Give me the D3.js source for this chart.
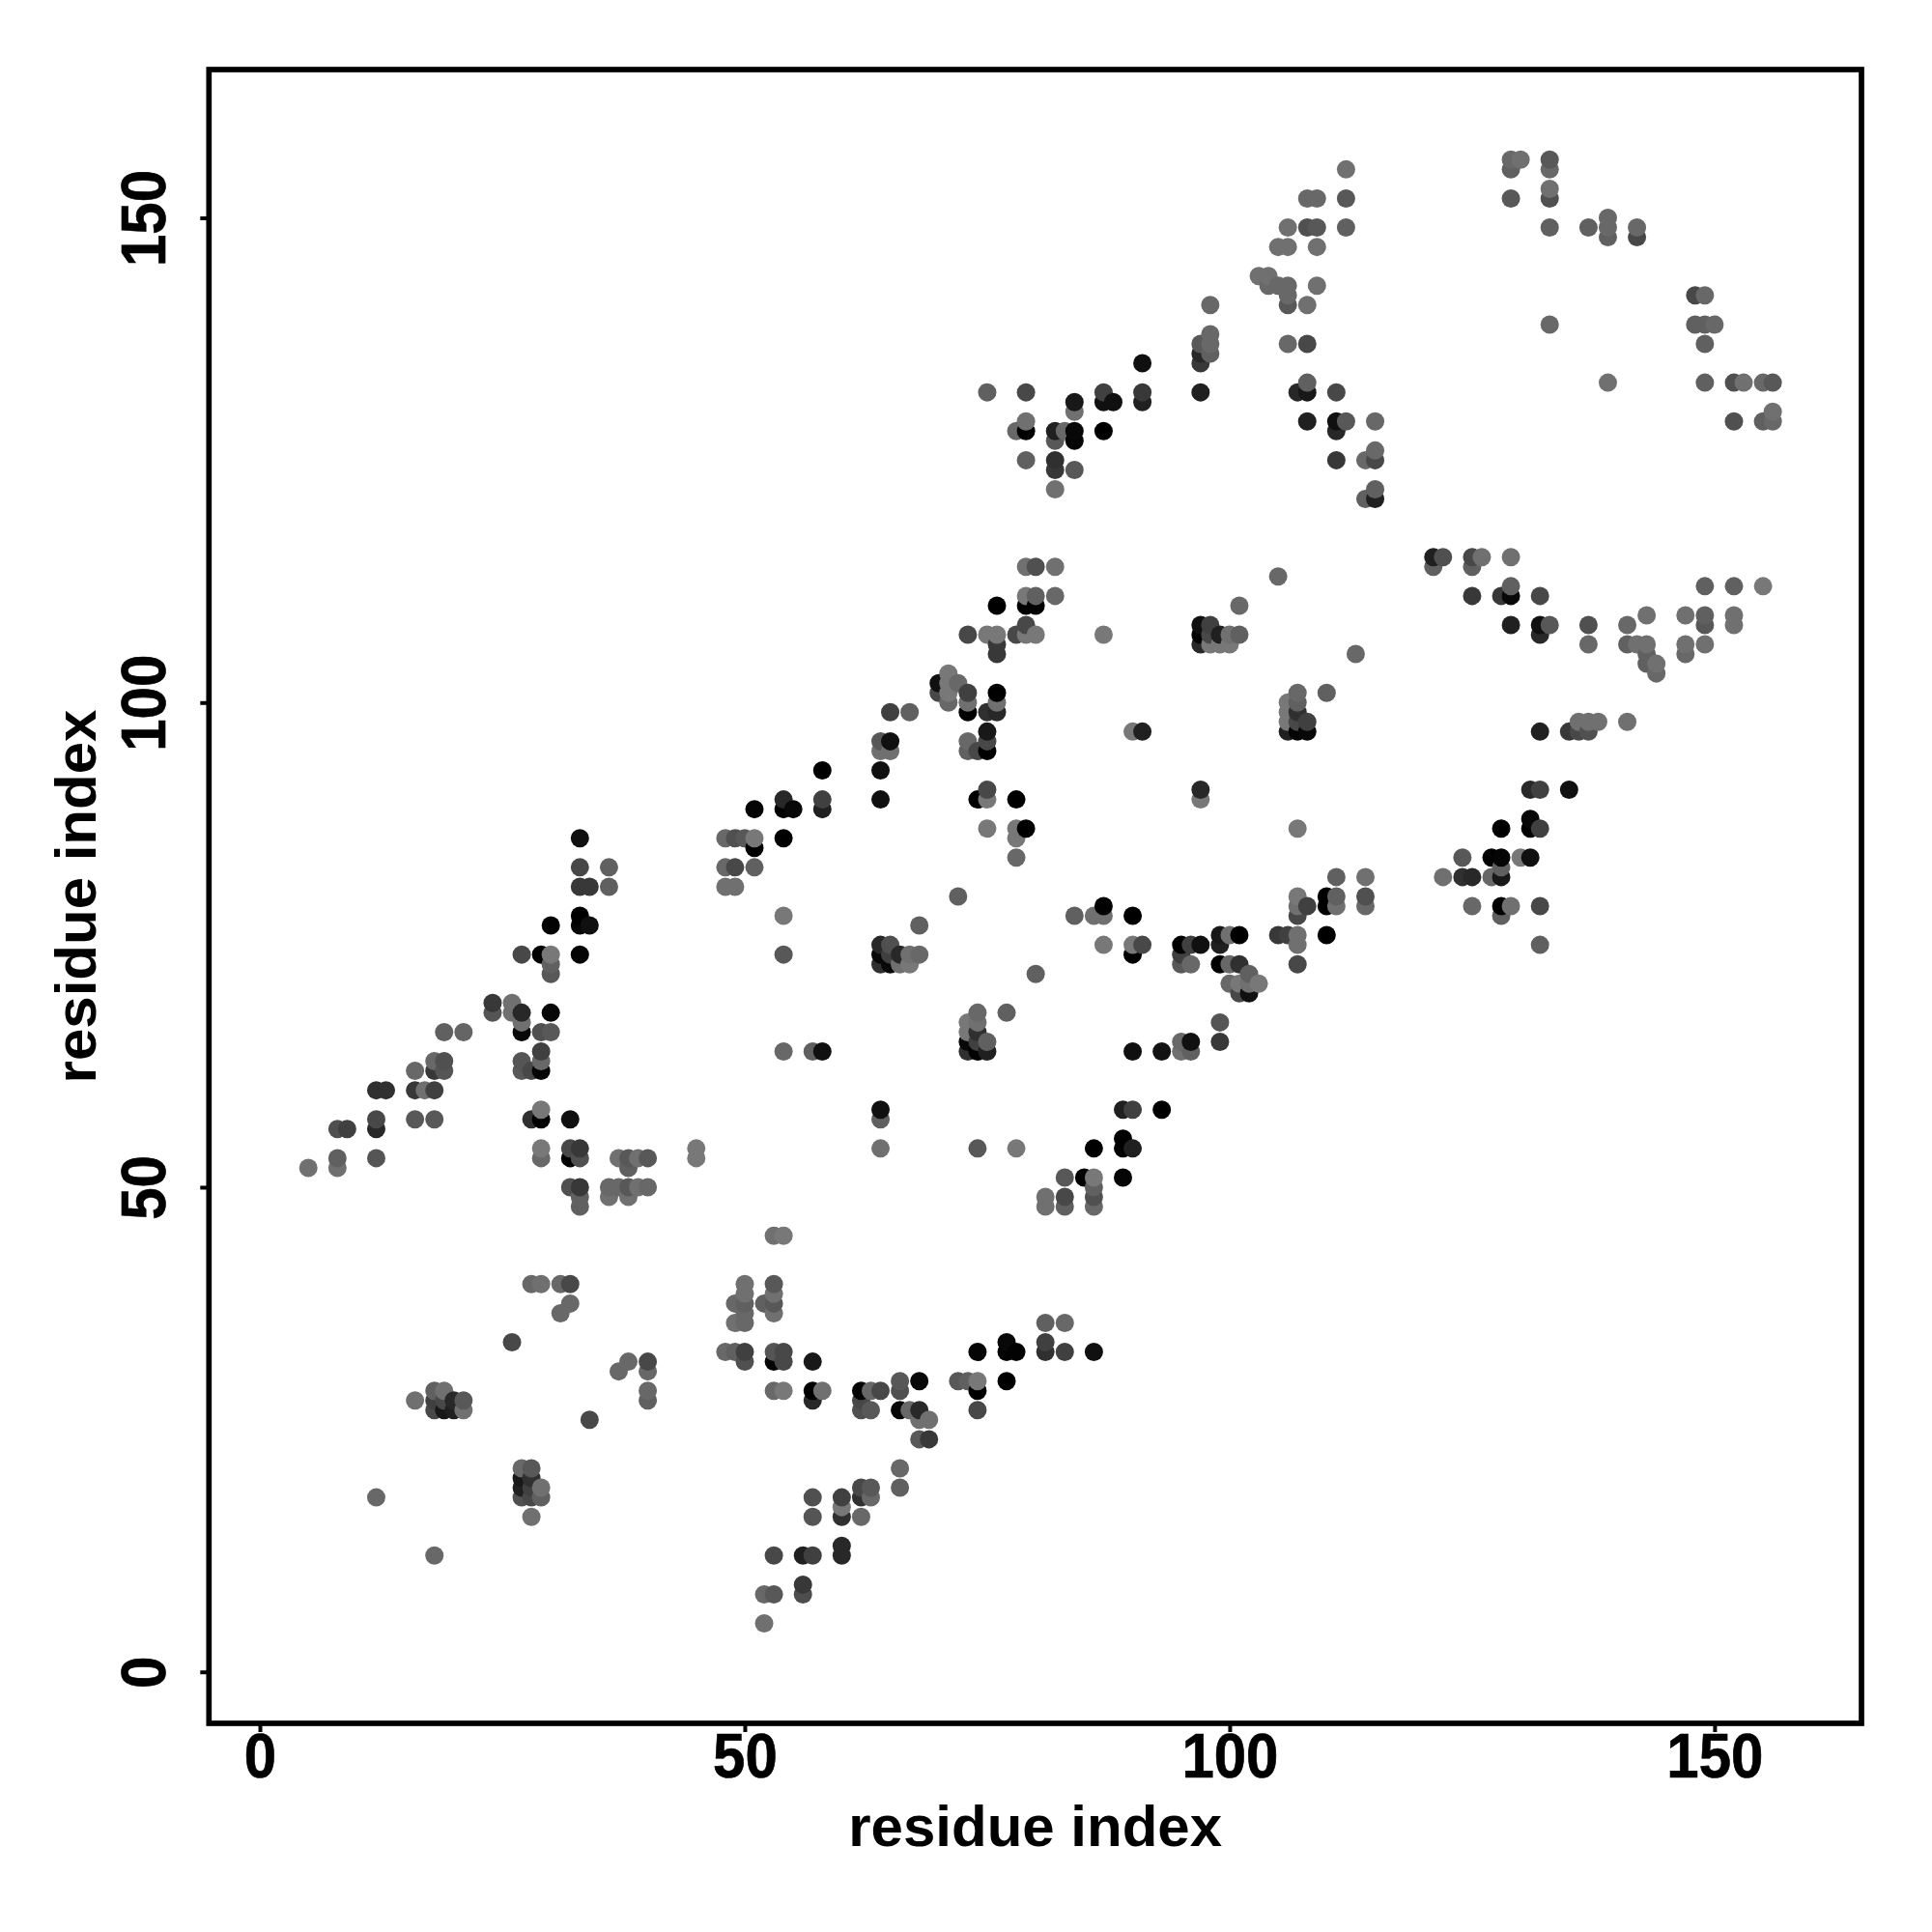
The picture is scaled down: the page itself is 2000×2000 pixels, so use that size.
<!DOCTYPE html>
<html><head><meta charset="utf-8">
<script src="https://cdn.jsdelivr.net/npm/d3@7/dist/d3.min.js"></script>
<style>html,body{margin:0;padding:0;background:#fff}svg{display:block}</style>
</head><body><svg id="c" width="2000" height="2000"></svg>
<script>
const axisTicks = [0, 50, 100, 150];
const xLabel = "residue index";
const yLabel = "residue index";
const residueI = [
5,8,8,8,9,12,12,12,12,13,
16,18,16,17,18,
16,18,18,19,19,19,21,
24,24,26,26,27,27,27,29,30,30,
27,27,28,29,29,29,
28,29,29,32,
29,29,32,32,33,33,
32,33,33,33,
36,36,37,38,38,39,40,
37,38,38,39,40,
45,45,
27,29,30,30,30,30,33,33,33,34,
33,34,36,33,36,33,
48,49,50,51,51,48,49,51,48,49,51,
53,54,
28,29,31,32,32,31,
26,
38,37,40,40,40,40,
34,
16,18,18,18,19,19,19,20,20,21,21,
12,18,
27,28,27,28,27,28,29,27,28,29,28,
50,50,49,50,50,49,50,
53,53,52,53,53,
48,49,50,50,53,53,54,54,57,
53,54,57,57,58,
62,63,64,62,62,63,
66,66,68,66,67,68,68,69,68,69,
72,73,74,74,74,77,
74,77,77,78,
81,83,81,81,83,86,
66,66,
57,60,60,60,57,62,62,63,63,62,
60,60,56,57,53,
56,56,52,53,52,
54,57,58,
64,64,64,74,78,
86,89,89,90,89,90,93,
89,83,85,86,86,86,86,
81,81,83,83,
90,93,95,95,96,96,99,99,
77,74,73,74,73,74,73,74,75,73,74,75,
54,54,55,54,58,58,58,64,64,
64,64,65,65,65,67,
71,71,70,70,71,71,72,73,73,73,75,76,76,76,
73,73,74,75,75,75,
75,74,75,78,
75,78,78,79,78,
73,75,76,76,76,78,79,79,80,
76,79,80,79,80,82,79,80,82,
87,
90,91,
97,97,
97,97,97,98,98,98,99,99,100,100,101,101,
54,54,72,68,80,
64,65,64,65,64,65,66,66,67,67,68,
84,86,87,87,90,
87,90,91,90,
95,96,97,95,95,96,
99,100,101,99,99,100,101,
102,100,101,102,103,101,102,
107,105,113,110,
107,106,107,106,107,106,107,108,106,107,108,
132,135,136,137,136,137,138,141,
121,122,121,125,126,125,129,
129,129,128,125,132,
129,132,133,132,
137,137,141,141,142,143,143,143,143,144,144,
147,147,147,149,149,149,152,152,149,152,155,
131,132,135,
128,131,131,132,
124,127,128,130,131,128,
122,124,125,127,128,
111,114,
107,107,108,107,110,110,111,111,114,114,
125,128,129,128,132,132,
105,106,107,107,110,107,
75,79,84,84,78,79,79,79,
82,83,84,84,82,82,82,84,82,
87,87,88,87,
91,91,91,
97,97,97,97,98,98,98,98,
112,112,112,108,109,108,109,106,105,106,109,
103,104,104,105,106,106,106,109,108,106,108,
108,107,108,111,
108,111,112,111,115,
111,114,115,115,
114,115,115,
129,130,129,129,133,133,133,133,133,137,139,139,139,142,142,
148,149,148,149,150,149,
133,139,149,152,153,155,156,
152,155,156,156
];
const residueJ = [
52,53,52,56,56,57,56,53,60,60,
57,57,60,60,60,
62,63,62,63,62,66,66,
69,68,69,68,68,67,66,66,66,68,
63,62,62,64,63,62,
57,57,58,57,
54,53,54,53,54,53,
50,50,49,48,
50,49,50,50,49,50,50,
53,53,52,53,53,
54,53,
74,74,74,73,72,77,74,78,77,77,
81,81,81,83,83,86,
86,86,86,86,85,83,83,83,81,81,89,
45,45,
40,40,40,40,38,37,
34,
32,31,32,31,29,28,
26,
28,29,28,27,29,28,27,28,27,28,27,
18,12,
21,21,20,20,19,19,19,18,18,18,16,
40,39,38,38,37,36,36,
40,39,38,38,37,
33,33,33,32,33,32,33,32,32,
29,29,29,28,29,
29,29,29,28,27,27,
30,29,30,27,27,27,26,26,24,24,
30,30,30,29,27,30,
33,34,33,33,
36,36,34,33,33,33,
21,19,
18,18,17,16,16,19,18,19,18,16,
13,12,12,12,12,
9,8,8,8,5,
64,64,64,
58,57,54,54,54,
54,55,54,54,58,58,58,
51,51,51,51,50,49,48,
49,48,49,48,
64,64,65,64,65,64,67,65,
68,68,67,67,66,66,65,65,65,64,64,64,
90,89,89,86,90,89,93,93,90,
96,95,96,95,99,99,
103,102,102,101,101,100,102,101,100,99,99,99,100,101,
96,95,95,97,96,95,
91,90,90,90,
87,87,86,87,84,
107,107,107,106,105,107,108,107,107,
110,110,110,111,111,111,114,114,114,
107,
97,97,
91,90,
108,107,106,108,107,106,107,106,107,106,107,110,
78,74,80,77,72,
75,75,74,74,73,73,74,73,74,73,74,
78,78,78,79,78,
75,75,75,74,
75,75,75,74,73,73,
76,76,76,75,73,73,73,
72,71,71,71,71,70,70,
87,113,105,101,
101,100,100,99,99,98,98,98,97,97,97,
97,97,97,97,98,98,98,98,
115,115,114,115,115,114,115,
112,111,111,111,111,
108,108,108,107,
108,106,108,106,106,106,109,105,104,104,103,
109,106,105,109,108,106,109,108,112,112,112,
91,91,91,
87,88,87,87,
84,84,84,84,84,83,
82,82,82,82,82,
82,82,
80,79,79,78,80,79,80,79,80,79,
79,79,79,78,79,75,
76,76,76,75,76,73,
132,132,131,130,128,129,128,125,
128,128,128,127,127,125,124,124,122,
132,131,131,128,
135,132,131,
132,135,136,137,138,137,136,141,
155,152,149,152,152,149,149,149,147,147,147,
144,144,143,143,143,142,141,143,141,137,137,
133,132,132,132,
129,129,129,128,129,
125,125,126,125,
121,122,121,
156,156,155,152,156,155,153,152,149,149,150,149,148,149,148,
142,142,139,139,139,137,
139,133,133,133,133,133,133,
129,129,129,130
];
const grayLevel = [
0x70,0x60,0x70,0x50,0x40,0x48,0x28,0x55,0x30,0x30,
0x58,0x58,0x38,0x70,0x40,
0x68,0x68,0x38,0x50,0x55,0x60,0x65,
0x38,0x55,0x70,0x70,0x28,0x70,0x08,0x50,0x58,0x08,
0x55,0x58,0x48,0x40,0x68,0x05,
0x30,0x00,0x78,0x10,
0x78,0x68,0x48,0x00,0x38,0x50,
0x50,0x38,0x60,0x60,
0x68,0x70,0x68,0x58,0x70,0x70,0x68,
0x70,0x58,0x60,0x70,0x58,
0x78,0x78,
0x48,0x02,0x78,0x60,0x58,0x02,0x05,0x00,0x05,0x10,
0x38,0x38,0x60,0x48,0x60,0x10,
0x68,0x50,0x58,0x78,0x00,0x68,0x48,0x60,0x70,0x70,0x05,
0x70,0x78,
0x68,0x70,0x68,0x48,0x68,0x68,
0x48,
0x68,0x68,0x48,0x68,0x68,0x60,
0x48,
0x70,0x60,0x40,0x48,0x70,0x48,0x18,0x28,0x20,0x58,0x70,
0x68,0x68,
0x68,0x58,0x18,0x30,0x20,0x40,0x70,0x50,0x48,0x60,0x70,
0x70,0x70,0x68,0x60,0x68,0x70,0x68,
0x58,0x70,0x60,0x58,0x70,
0x68,0x60,0x40,0x50,0x55,0x05,0x48,0x48,0x18,
0x68,0x78,0x00,0x28,0x70,
0x05,0x68,0x48,0x48,0x50,0x58,
0x58,0x50,0x08,0x08,0x68,0x28,0x70,0x70,0x58,0x38,
0x58,0x60,0x78,0x00,0x48,0x00,
0x05,0x08,0x02,0x02,
0x60,0x68,0x40,0x30,0x40,0x10,
0x68,0x60,
0x50,0x40,0x78,0x30,0x55,0x48,0x30,0x58,0x68,0x68,
0x28,0x28,0x20,0x40,0x48,
0x38,0x4d,0x68,0x58,0x70,
0x68,0x60,0x10,
0x10,0x60,0x70,0x58,0x78,
0x00,0x00,0x02,0x20,0x20,0x40,0x00,
0x05,0x58,0x02,0x78,0x60,0x50,0x68,
0x70,0x70,0x48,0x60,
0x10,0x12,0x68,0x70,0x10,0x60,0x55,0x38,
0x60,0x68,0x78,0x70,0x78,0x30,0x08,0x40,0x60,0x30,0x02,0x20,
0x28,0x00,0x08,0x00,0x40,0x20,0x00,0x10,0x10,
0x58,0x70,0x10,0x70,0x40,0x60,
0x78,0x78,0x10,0x48,0x78,0x68,0x68,0x40,0x70,0x00,0x30,0x28,0x70,0x00,
0x68,0x60,0x48,0x18,0x48,0x00,
0x48,0x00,0x78,0x00,
0x78,0x78,0x78,0x00,0x68,
0x48,0x78,0x78,0x38,0x38,0x48,0x48,0x78,0x78,
0x00,0x00,0x02,0x78,0x60,0x68,0x70,0x50,0x70,
0x78,
0x78,0x20,
0x28,0x78,
0x10,0x05,0x28,0x40,0x48,0x78,0x20,0x78,0x70,0x78,0x60,0x68,
0x78,0x58,0x60,0x60,0x60,
0x28,0x50,0x08,0x40,0x30,0x08,0x28,0x70,0x70,0x78,0x68,
0x60,0x70,0x70,0x02,0x00,
0x78,0x78,0x48,0x00,
0x00,0x40,0x10,0x40,0x58,0x68,
0x18,0x70,0x00,0x20,0x00,0x68,0x30,
0x60,0x68,0x78,0x70,0x78,0x48,0x10,
0x78,0x68,0x68,0x60,
0x68,0x78,0x60,0x78,0x30,0x78,0x48,0x40,0x20,0x05,0x08,
0x20,0x38,0x48,0x50,0x70,0x70,0x70,0x70,
0x20,0x50,0x60,0x48,0x70,0x60,0x70,
0x60,0x08,0x38,0x38,0x48,
0x20,0x10,0x58,0x28,
0x50,0x68,0x68,0x60,0x70,0x70,0x70,0x60,0x60,0x70,0x68,
0x70,0x70,0x68,0x60,0x58,0x70,0x70,0x70,0x60,0x60,0x78,
0x28,0x40,0x10,
0x00,0x08,0x00,0x40,
0x58,0x00,0x05,0x78,0x10,0x60,
0x70,0x30,0x28,0x68,0x18,
0x60,0x70,
0x78,0x70,0x40,0x48,0x00,0x00,0x60,0x70,0x50,0x68,
0x68,0x00,0x70,0x60,0x48,0x60,
0x38,0x40,0x70,0x70,0x00,0x48,
0x60,0x48,0x18,0x70,0x68,0x70,0x00,0x60,
0x20,0x68,0x08,0x05,0x58,0x30,0x38,0x58,0x70,
0x40,0x10,0x10,0x00,
0x10,0x38,0x20,
0x20,0x38,0x28,0x58,0x68,0x68,0x60,0x68,
0x70,0x58,0x60,0x68,0x68,0x50,0x58,0x70,0x70,0x70,0x70,
0x70,0x70,0x68,0x68,0x68,0x68,0x58,0x70,0x70,0x68,0x48,
0x60,0x28,0x18,0x48,
0x20,0x10,0x58,0x28,0x68,
0x38,0x68,0x68,0x48,
0x60,0x60,0x20,
0x68,0x70,0x60,0x58,0x58,0x68,0x70,0x50,0x60,0x60,0x68,0x68,0x60,0x68,0x48,
0x48,0x68,0x60,0x60,0x68,0x60,
0x68,0x70,0x60,0x50,0x70,0x68,0x58,
0x50,0x60,0x68,0x70
];

const FONT = '"Liberation Sans", Arial, Helvetica, sans-serif';
const plotLeft = 216.3, plotRight = 1927, plotTop = 72, plotBottom = 1784;
const x = d3.scaleLinear().domain([-5.25, 165.15]).range([plotLeft, plotRight]);
const y = d3.scaleLinear().domain([-5.31, 165.3]).range([plotBottom, plotTop]);

const svg = d3.select("#c");
const points = d3.range(residueI.length)
  .map(k => ({i: residueI[k], j: residueJ[k], g: grayLevel[k]}))
  .sort((a, b) => d3.ascending(a.i, b.i) || d3.ascending(a.j, b.j));

svg.append("g").selectAll("circle").data(points).join("circle")
  .attr("cx", d => x(d.i)).attr("cy", d => y(d.j)).attr("r", 9.5)
  .attr("fill", d => d3.rgb(d.g, d.g, d.g).formatHex());

svg.append("rect").attr("x", plotLeft).attr("y", plotTop)
  .attr("width", plotRight - plotLeft).attr("height", plotBottom - plotTop)
  .attr("fill", "none").attr("stroke", "#000").attr("stroke-width", 5.7);

const gx = svg.append("g").attr("transform", `translate(0,${plotBottom})`)
  .call(d3.axisBottom(x).tickValues(axisTicks).tickSize(9).tickPadding(2).tickFormat(d3.format("d")));
const gy = svg.append("g").attr("transform", `translate(${plotLeft},0)`)
  .call(d3.axisLeft(y).tickValues(axisTicks).tickSize(9).tickFormat(d3.format("d")));
[gx, gy].forEach(g => {
  g.select(".domain").remove();
  g.selectAll(".tick line").attr("stroke", "#000").attr("stroke-width", 4);
  g.selectAll(".tick text").attr("fill", "#000").attr("stroke", "#000").attr("stroke-width", 0.6)
    .attr("font-family", FONT).attr("font-weight", "bold").attr("font-size", 60);
});
gx.selectAll(".tick text").attr("dy", null).attr("y", null)
  .attr("transform", `translate(0,${1840 - plotBottom}) scale(1,1.07)`);
gy.selectAll(".tick text")
  .attr("x", null).attr("dy", null).attr("text-anchor", "middle")
  .attr("transform", `translate(${170.7 - plotLeft},0) rotate(-90) scale(1,1.07)`);

svg.append("text").attr("x", (plotLeft + plotRight) / 2).attr("y", 1911)
  .attr("text-anchor", "middle").attr("font-family", FONT).attr("font-weight", "bold")
  .attr("font-size", 60).attr("fill", "#000").text(xLabel);
svg.append("text").attr("transform", `translate(99,${(plotTop + plotBottom) / 2}) rotate(-90)`)
  .attr("text-anchor", "middle").attr("font-family", FONT).attr("font-weight", "bold")
  .attr("font-size", 60).attr("fill", "#000").text(yLabel);
</script></body></html>
